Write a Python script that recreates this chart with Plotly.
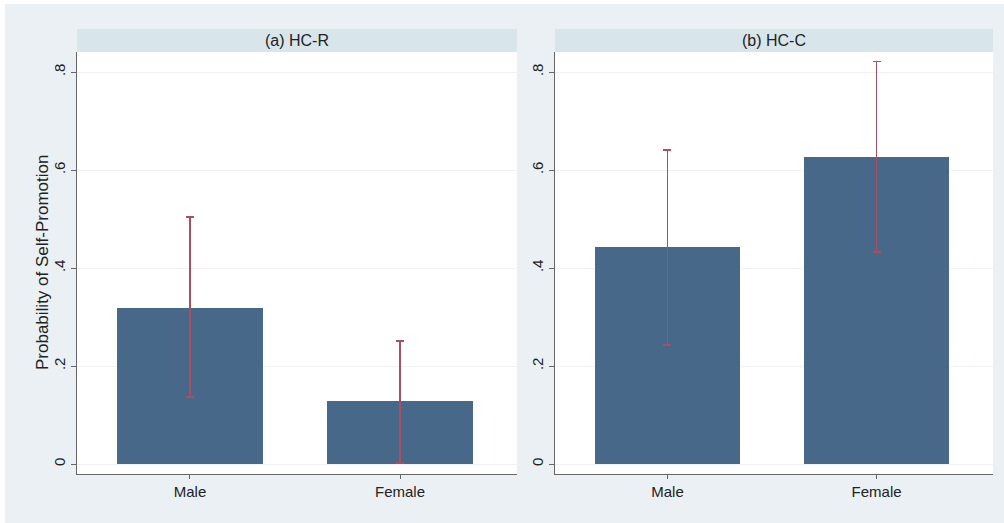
import plotly.graph_objects as go

categories = ["Male", "Female"]
panel_titles = ["(a) HC-R", "(b) HC-C"]
y_title = "Probability of Self-Promotion"
hcr_values = [0.318, 0.129]
hcr_upper = [0.504, 0.251]
hcr_lower = [0.137, 0.002]
hcc_values = [0.443, 0.627]
hcc_upper = [0.641, 0.822]
hcc_lower = [0.243, 0.433]
ytick_vals = [0, 0.2, 0.4, 0.6, 0.8]
ytick_text = ["0", ".2", ".4", ".6", ".8"]

BAR = "#476889"
ERR = "#a8505f"
BG = "#eaf0f3"
STRIP = "#d8e5eb"
FONT = "Liberation Sans, Arial, sans-serif"

W, H = 1004, 523
L, R, T, B = 77, 11, 52, 49
PW, PH = W - L - R, H - T - B

fig = go.Figure()
panels = [(hcr_values, hcr_upper, hcr_lower), (hcc_values, hcc_upper, hcc_lower)]
xpos = [0, 1]
for i, (vals, up, lo) in enumerate(panels):
    ax = "" if i == 0 else "2"
    fig.add_trace(go.Bar(
        x=xpos, y=vals, width=0.695,
        marker=dict(color=BAR, line=dict(width=0)),
        error_y=dict(type="data", symmetric=False,
                     array=[u - v for u, v in zip(up, vals)],
                     arrayminus=[v - l for v, l in zip(vals, lo)],
                     color=ERR, thickness=1.5, width=4),
        xaxis="x" + ax, yaxis="y" + ax, showlegend=False,
    ))

dom_a = [0, 440 / PW]
dom_b = [(555 - L) / PW, 1]
xcommon = dict(range=[-0.538, 1.557], tickvals=xpos, ticktext=categories,
               showline=True, linecolor="#666666", linewidth=1,
               ticks="outside", ticklen=4, tickcolor="#666666",
               showgrid=False, zeroline=False,
               tickfont=dict(family=FONT, size=15, color="#222222"))
ycommon = dict(range=[-0.0204, 0.841], tickvals=ytick_vals, ticktext=ytick_text,
               tickangle=-90, showline=True, linecolor="#666666", linewidth=1,
               ticks="outside", ticklen=5, tickcolor="#666666",
               showgrid=True, gridcolor="#eef2f4", gridwidth=1, zeroline=False,
               tickfont=dict(family=FONT, size=15, color="#222222"))

fig.update_layout(
    width=W, height=H,
    margin=dict(l=L, r=R, t=T, b=B),
    paper_bgcolor=BG, plot_bgcolor="white",
    font=dict(family=FONT, size=15, color="#222222"),
    bargap=0,
    xaxis=dict(domain=dom_a, anchor="y", **xcommon),
    yaxis=dict(domain=[0, 1], anchor="x", **ycommon),
    xaxis2=dict(domain=dom_b, anchor="y2", **xcommon),
    yaxis2=dict(domain=[0, 1], anchor="x2", **ycommon),
)

# y axis title
fig.add_annotation(xref="paper", yref="paper", x=(42 - L) / PW, y=0.5,
                   text=y_title, textangle=-90, showarrow=False,
                   xanchor="center", yanchor="middle",
                   font=dict(family=FONT, size=17, color="#222222"))

strip_h = 23 / PH
for dom, title in zip([dom_a, dom_b], panel_titles):
    fig.add_shape(type="rect", xref="paper", yref="paper",
                  x0=dom[0], x1=dom[1], y0=1, y1=1 + strip_h,
                  fillcolor=STRIP, line=dict(width=0), layer="below")
    fig.add_annotation(xref="paper", yref="paper", x=(dom[0] + dom[1]) / 2,
                       y=1 + strip_h / 2, text=title, showarrow=False,
                       xanchor="center", yanchor="middle",
                       font=dict(family=FONT, size=16, color="#222222"))

# thin white border at the top-left edge of the image
fig.add_shape(type="rect", xref="paper", yref="paper",
              x0=-L / PW, x1=(W - L) / PW, y0=(H - B - 4) / PH, y1=(H - B) / PH,
              fillcolor="white", line=dict(width=0), layer="above")
fig.add_shape(type="rect", xref="paper", yref="paper",
              x0=-L / PW, x1=(5 - L) / PW, y0=-B / PH, y1=(H - B) / PH,
              fillcolor="white", line=dict(width=0), layer="above")

fig.write_html("out.html", config={"displayModeBar": False},
               post_script="document.body.style.margin='0';document.body.style.padding='0';")
